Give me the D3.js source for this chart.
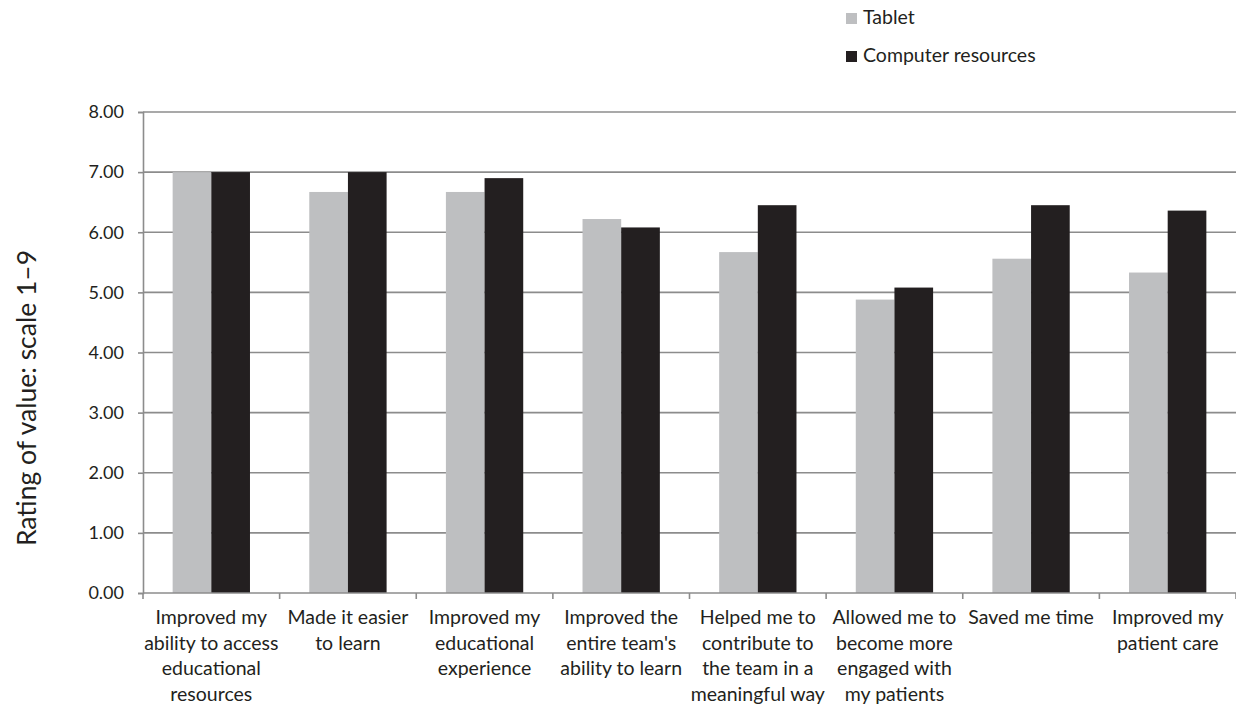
<!DOCTYPE html>
<html>
<head>
<meta charset="utf-8">
<script src="https://cdn.jsdelivr.net/npm/d3@7"></script>
<style>
  body { margin: 0; background: #fff; }
  svg text { font-family: Lato, "Open Sans", sans-serif; fill: #231f20; }
</style>
</head>
<body>
<svg width="1236" height="709"></svg>
<script>
const svg = d3.select("svg");

// DATA
const categories = [
  ["Improved my", "ability to access", "educational", "resources"],
  ["Made it easier", "to learn"],
  ["Improved my", "educational", "experience"],
  ["Improved the", "entire team's", "ability to learn"],
  ["Helped me to", "contribute to", "the team in a", "meaningful way"],
  ["Allowed me to", "become more", "engaged with", "my patients"],
  ["Saved me time"],
  ["Improved my", "patient care"]
];
const seriesNames = ["Tablet", "Computer resources"];
const tablet = [7.0, 6.67, 6.67, 6.22, 5.67, 4.88, 5.56, 5.33];
const computer = [7.0, 7.0, 6.9, 6.08, 6.45, 5.08, 6.45, 6.36];
const yTicks = [0, 1, 2, 3, 4, 5, 6, 7, 8];
const colors = ["#bebfc1", "#231f20"];

// CONSTANTS
const margin = { top: 112, left: 143, right: 0, bottom: 116 };
const width = 1236;
const height = 709;
const innerWidth = width - margin.left - margin.right;
const innerHeight = height - margin.top - margin.bottom;

const keys = categories.map((d, i) => i);
const rows = keys.map(i => [tablet[i], computer[i]]);

// SCALES
const xScale = d3.scaleBand().domain(keys).range([0, innerWidth]);
const gap = xScale.bandwidth() * 0.217;
const x1 = d3.scaleBand().domain([0, 1]).range([gap, xScale.bandwidth() - gap]);
const yScale = d3.scaleLinear().domain([0, 8]).range([innerHeight, 0]);

const g = svg.append("g").attr("transform", `translate(${margin.left}, ${margin.top})`);

// grid lines
g.append("g")
  .selectAll("line")
  .data(yTicks.filter(d => d > 0))
  .join("line")
  .attr("x1", 0)
  .attr("x2", innerWidth)
  .attr("y1", d => yScale(d))
  .attr("y2", d => yScale(d))
  .attr("stroke", "#8c8c8c")
  .attr("stroke-width", 1.6);

// bars
const groups = g.append("g")
  .selectAll("g")
  .data(rows)
  .join("g")
  .attr("transform", (d, i) => `translate(${xScale(i)}, 0)`);

groups.selectAll("rect")
  .data(d => d)
  .join("rect")
  .attr("x", (d, j) => x1(j))
  .attr("width", x1.bandwidth())
  .attr("y", d => yScale(d))
  .attr("height", d => innerHeight - yScale(d))
  .attr("fill", (d, j) => colors[j]);

// y axis
const yAxis = g.append("g")
  .call(d3.axisLeft(yScale).tickValues(yTicks).tickSize(5).tickPadding(14).tickFormat(d3.format(".2f")));
yAxis.select(".domain").attr("stroke", "#8c8c8c").attr("stroke-width", 1.6);
yAxis.selectAll(".tick line").attr("stroke", "#8c8c8c").attr("stroke-width", 1.6);
yAxis.selectAll(".tick text")
  .attr("font-size", 18)
  .attr("fill", "#231f20")
  .style("font-family", "Lato, sans-serif");

// x axis
const xAxis = g.append("g")
  .attr("transform", `translate(0, ${innerHeight})`);
xAxis.append("line")
  .attr("x1", 0).attr("x2", innerWidth)
  .attr("stroke", "#8c8c8c").attr("stroke-width", 1.6);
xAxis.selectAll("line.tk")
  .data(d3.range(keys.length + 1))
  .join("line")
  .attr("class", "tk")
  .attr("x1", d => d * xScale.step())
  .attr("x2", d => d * xScale.step())
  .attr("y1", 0).attr("y2", 6)
  .attr("stroke", "#8c8c8c").attr("stroke-width", 1.6);

// each line of a category label is its own text element
const labels = xAxis.selectAll("g.lbl")
  .data(categories)
  .join("g")
  .attr("class", "lbl")
  .attr("transform", (d, i) => `translate(${xScale(i) + xScale.bandwidth() / 2}, 31)`);
labels.selectAll("text")
  .data(d => d)
  .join("text")
  .attr("text-anchor", "middle")
  .attr("font-size", 19.5)
  .attr("y", (d, k) => k * 25.5)
  .text(d => d);

// y title
svg.append("text")
  .attr("transform", "translate(36, 398) rotate(-90)")
  .attr("text-anchor", "middle")
  .attr("font-size", 26.5)
  .text("Rating of value: scale 1–9");

// legend
const legend = svg.append("g").attr("transform", "translate(846, 13)");
const li = legend.selectAll("g")
  .data(seriesNames)
  .join("g")
  .attr("transform", (d, i) => `translate(0, ${i * 38})`);
li.append("rect")
  .attr("width", 11).attr("height", 11)
  .attr("fill", (d, i) => colors[i]);
li.append("text")
  .attr("x", 17).attr("y", 11)
  .attr("font-size", 19.5)
  .text(d => d);
</script>
</body>
</html>
